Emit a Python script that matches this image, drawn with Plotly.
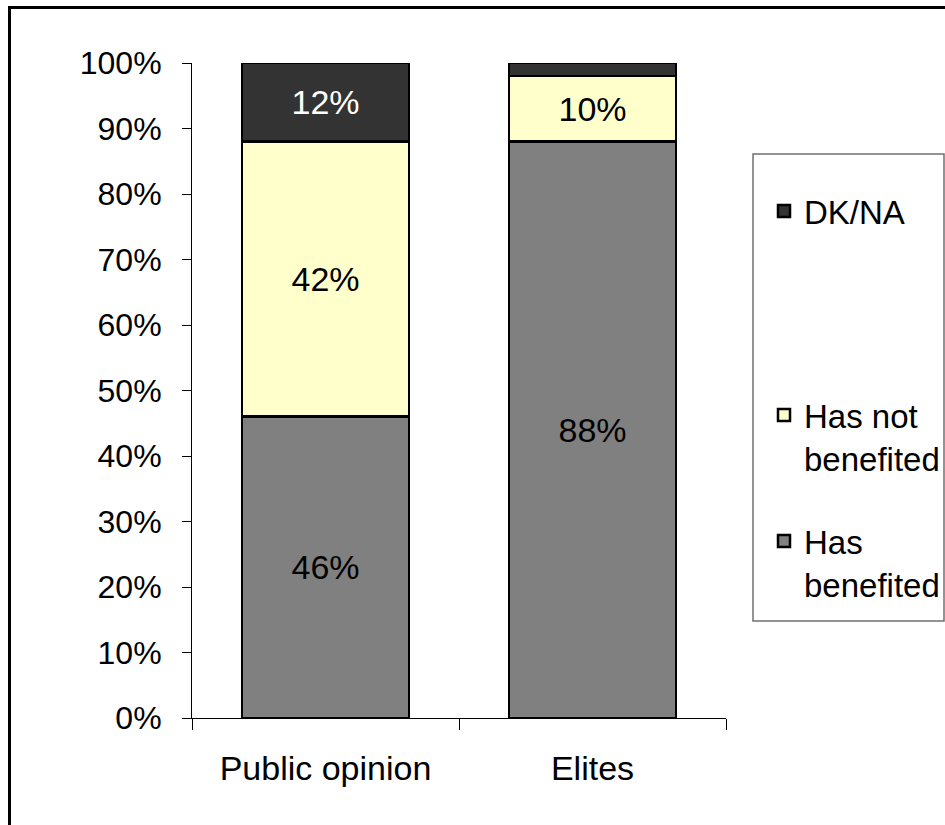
import plotly.graph_objects as go

# Survey groups and their answer shares (%)
groups = ["Public opinion", "Elites"]
has_benefited = [46, 88]
has_not_benefited = [42, 10]
dk_na = [12, 2]

# Y axis ticks
y_tickvals = [0, 10, 20, 30, 40, 50, 60, 70, 80, 90, 100]
y_ticktext = ["0%", "10%", "20%", "30%", "40%", "50%", "60%", "70%", "80%", "90%", "100%"]

series_names = ["Has<br>benefited", "Has not<br>benefited", "DK/NA"]
series_colors = ["#808080", "#FFFFCC", "#333333"]
label_colors = ["black", "black", "white"]
series_values = [has_benefited, has_not_benefited, dk_na]
legend_ids = ["legend3", "legend2", "legend"]

FONT = "Liberation Sans, Arial, sans-serif"

W, H = 945, 825
L, R, T, B = 192, 219, 63, 107
plot_w = W - L - R
plot_h = H - T - B


def px_x(x):
    return (x - L) / plot_w


def px_y(y):
    return (H - B - y) / plot_h


fig = go.Figure()
for name, color, tcolor, vals, lg in zip(series_names, series_colors, label_colors,
                                         series_values, legend_ids):
    texts = [f"{v}%" if v >= 5 else "" for v in vals]
    fig.add_trace(go.Bar(
        x=groups, y=vals, name=name,
        marker=dict(color=color, line=dict(color="black", width=2.5)),
        text=texts, textposition="inside", insidetextanchor="middle",
        textangle=0, constraintext="none",
        textfont=dict(family=FONT, size=34, color=tcolor),
        legend=lg, showlegend=True, hoverinfo="skip",
    ))

legend_common = dict(
    font=dict(family=FONT, size=33, color="black"),
    bgcolor="rgba(0,0,0,0)", borderwidth=0, valign="top",
    xanchor="left", yanchor="top", visible=True,
)

fig.update_layout(
    width=W, height=H,
    margin=dict(l=L, r=R, t=T, b=B, autoexpand=False),
    barmode="stack", bargap=0.375,
    showlegend=True,
    paper_bgcolor="white", plot_bgcolor="white",
    font=dict(family=FONT, size=32, color="black"),
    legend=dict(x=px_x(764), y=px_y(183), **legend_common),
    legend2=dict(x=px_x(764), y=px_y(387), **legend_common),
    legend3=dict(x=px_x(764), y=px_y(513), **legend_common),
    xaxis=dict(
        showline=True, linecolor="black", linewidth=1,
        ticks="outside", ticklen=11, tickcolor="black", tickson="boundaries",
        tickfont=dict(family=FONT, size=34, color="black"),
        ticklabelstandoff=20,
        showgrid=False, zeroline=False,
    ),
    yaxis=dict(
        range=[0, 100], tickvals=y_tickvals, ticktext=y_ticktext,
        showline=True, linecolor="black", linewidth=1,
        ticks="outside", ticklen=9, tickcolor="black",
        tickfont=dict(family=FONT, size=32, color="black"),
        ticklabelstandoff=14,
        showgrid=False, zeroline=False,
    ),
    shapes=[
        # legend frame
        dict(type="rect", xref="paper", yref="paper",
             x0=px_x(753), x1=px_x(944), y0=px_y(621), y1=px_y(154),
             line=dict(color="#707070", width=1.5), layer="below"),
        # outer chart frame
        dict(type="rect", xref="paper", yref="paper",
             x0=px_x(9.5), x1=px_x(960), y0=px_y(840), y1=px_y(7.5),
             line=dict(color="black", width=3), layer="below"),
    ],
)

fig.write_html("out.html")
